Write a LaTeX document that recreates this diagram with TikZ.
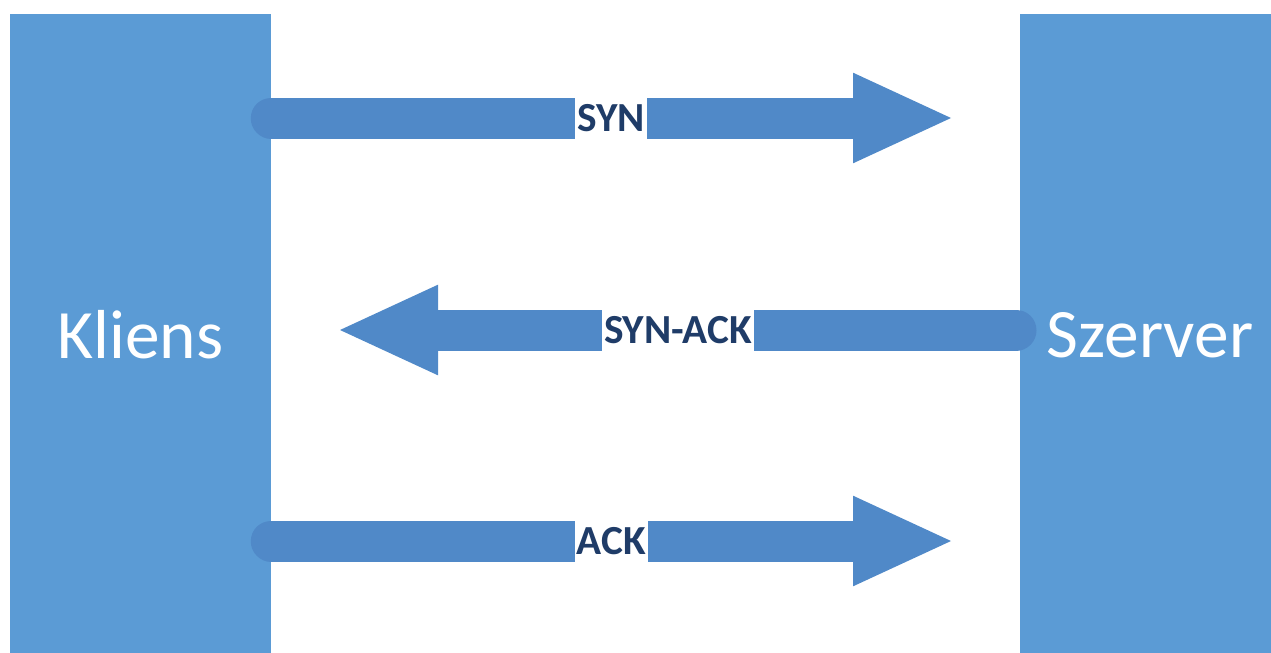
\documentclass[tikz,border=0pt]{standalone}
\usepackage{fontspec}
\setmainfont{Carlito}
\usetikzlibrary{arrows.meta,positioning}
\definecolor{hostblue}{HTML}{5B9BD5}
\definecolor{msgblue}{HTML}{5089C8}
\definecolor{labelnavy}{HTML}{1F3C68}
\tikzset{
  hostbox/.style={fill=hostblue, rectangle, minimum width=195.75pt, minimum height=481.5pt, inner sep=0pt, text=white, font=\fontsize{52}{60}\selectfont},
  message/.style={draw=msgblue, line width=30.75pt, line cap=round, -{Triangle[length=73.5pt, width=68pt, line width=0pt, fill=msgblue]}},
  msglabel/.style={fill=white, text=labelnavy, inner xsep=1.5pt, inner ysep=0pt, minimum height=32pt, font=\bfseries\fontsize{31}{36}\selectfont}
}
\begin{document}
\begin{tikzpicture}[x=0.75pt, y=-0.75pt]
  \useasboundingbox (0,0) rectangle (1271,653);
  \node[hostbox] (kliens) at (140.5,335) {Kliens};
  \node[hostbox, minimum width=195pt] (szerver) at (1150,335) {Szerver};
  % message ends
  \coordinate (syntip) at (951,118);
  \coordinate (synacktail) at (1016,330);
  \coordinate (synacktip) at (340,330);
  \coordinate (acktip) at (951,541);
  \draw[message] (kliens.east |- syntip) -- (syntip) node[msglabel, midway] {SYN};
  \draw[message] (synacktail) -- (synacktip) node[msglabel, midway] {SYN-ACK};
  \draw[message] (kliens.east |- acktip) -- (acktip) node[msglabel, midway] {ACK};
\end{tikzpicture}
\end{document}
